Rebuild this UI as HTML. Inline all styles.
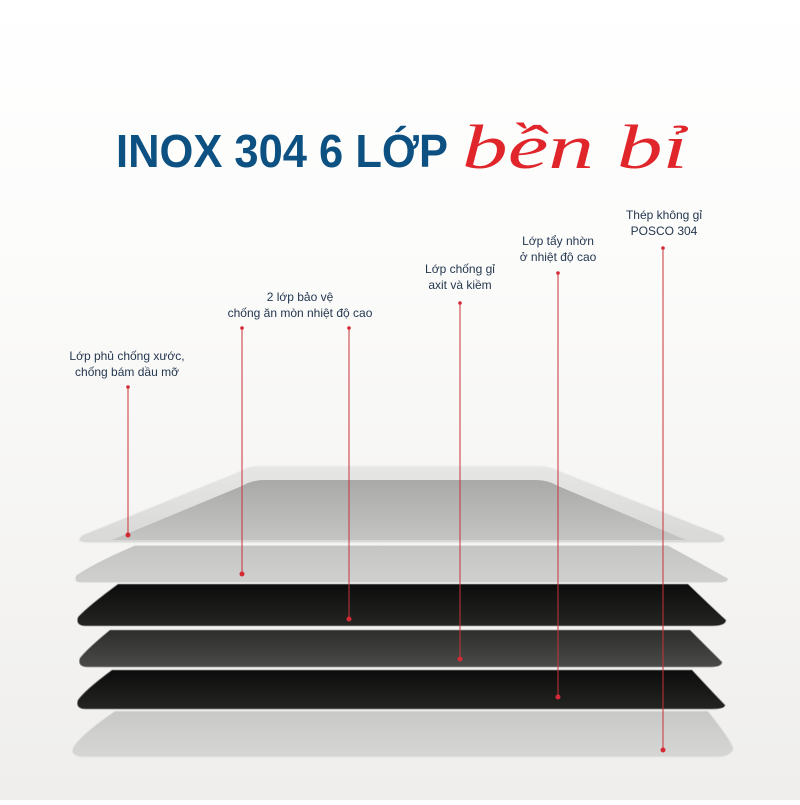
<!DOCTYPE html>
<html><head><meta charset="utf-8"><style>
html,body{margin:0;padding:0;}
body{width:800px;height:800px;overflow:hidden;background:linear-gradient(#ffffff 0%,#fbfbfa 35%,#efeeec 100%);}
</style></head><body>
<svg width="800" height="800" viewBox="0 0 800 800" xmlns="http://www.w3.org/2000/svg">
<defs>
<linearGradient id="g1" x1="0" y1="0" x2="0" y2="1"><stop offset="0" stop-color="#e6e6e5"/><stop offset="1" stop-color="#d8d8d7"/></linearGradient>
<linearGradient id="gi" x1="0" y1="0" x2="0" y2="1"><stop offset="0" stop-color="#a9a9a8"/><stop offset="1" stop-color="#c4c4c3"/></linearGradient>
<linearGradient id="g2" x1="0" y1="0" x2="0" y2="1"><stop offset="0" stop-color="#c4c4c3"/><stop offset="1" stop-color="#d0d0cf"/></linearGradient>
<linearGradient id="g3" x1="0" y1="0" x2="0" y2="1"><stop offset="0" stop-color="#0c0c0c"/><stop offset="1" stop-color="#242422"/></linearGradient>
<linearGradient id="g4" x1="0" y1="0" x2="0" y2="1"><stop offset="0" stop-color="#2d2e2c"/><stop offset="1" stop-color="#4a4b48"/></linearGradient>
<linearGradient id="g6" x1="0" y1="0" x2="0" y2="1"><stop offset="0" stop-color="#c8c8c7"/><stop offset="1" stop-color="#d6d6d5"/></linearGradient>
</defs>
<path d="M115,711 L708,711 Q735,745 733,750 Q730,757 715,757 L85,757 Q70,757 73,748 Q80,735 115,711Z" fill="url(#g6)" stroke="#e4e4e3" stroke-width="1"/>
<path d="M112,670 L692,670 Q718,698 725,705 Q725,709 712,709 L86,709 Q75,709 78,700 Q85,690 112,670Z" fill="url(#g3)" stroke="#8a8a88" stroke-width="0.8"/>
<path d="M110,630 L690,630 Q715,655 722,662 Q722,667 710,667 L88,667 Q77,667 80,658 Q88,648 110,630Z" fill="url(#g4)" stroke="#9a9a98" stroke-width="0.8"/>
<path d="M118,584 L688,584 Q715,610 726,620 Q726,626 712,626 L86,626 Q75,626 78,617 Q88,606 118,584Z" fill="url(#g3)" stroke="#a6a6a4" stroke-width="0.8"/>
<path d="M135,545 L668,545 Q710,568 728,578 Q730,583 718,583 L82,583 Q72,583 76,575 Q95,562 135,545Z" fill="url(#g2)" stroke="#f2f2f2" stroke-width="1.2"/>
<path d="M258,466 L540,466 Q550,466 562,472 L722,535 Q730,542 718,543 L86,543 Q74,542 82,535 L238,472 Q248,466 258,466Z" fill="url(#g1)" stroke="#f0f0f0" stroke-width="1.2"/>
<path d="M264,480 L536,480 Q548,480 558,486 L686,540 L112,540 L242,486 Q252,480 264,480Z" fill="url(#gi)"/>
<g stroke="#c8323a" stroke-width="1">
<line x1="128" y1="387" x2="128" y2="535"/>
<line x1="242" y1="328" x2="242" y2="574"/>
<line x1="349" y1="328" x2="349" y2="619"/>
<line x1="460" y1="303" x2="460" y2="659"/>
<line x1="558" y1="273" x2="558" y2="697"/>
<line x1="663" y1="248" x2="663" y2="750"/>
</g>
<g fill="#d42a35">
<circle cx="128" cy="535" r="2.5"/><circle cx="242" cy="574" r="2.5"/><circle cx="349" cy="619" r="2.5"/>
<circle cx="460" cy="659" r="2.5"/><circle cx="558" cy="697" r="2.5"/><circle cx="663" cy="750" r="2.5"/>
<circle cx="128" cy="387" r="1.8"/><circle cx="242" cy="328" r="1.8"/><circle cx="349" cy="328" r="1.8"/>
<circle cx="460" cy="303" r="1.8"/><circle cx="558" cy="273" r="1.8"/><circle cx="663" cy="248" r="1.8"/>
</g>
<g font-family="Liberation Sans, DejaVu Sans, sans-serif" font-size="12" fill="#24374f" text-anchor="middle">
<text x="127" y="360">Lớp phủ chống xước,</text><text x="127" y="376">chống bám dầu mỡ</text>
<text x="300" y="301">2 lớp bảo vệ</text><text x="300" y="317">chống ăn mòn nhiệt độ cao</text>
<text x="460" y="273">Lớp chống gỉ</text><text x="460" y="289">axit và kiềm</text>
<text x="558" y="245">Lớp tẩy nhờn</text><text x="558" y="261">ở nhiệt độ cao</text>
<text x="664" y="219">Thép không gỉ</text><text x="664" y="235">POSCO 304</text>
</g>
<text x="116" y="167" font-family="Liberation Sans, sans-serif" font-weight="bold" font-size="46" fill="#0d5082" textLength="332" lengthAdjust="spacingAndGlyphs">INOX 304 6 LỚP</text>
<text x="462" y="168" font-family="Liberation Serif, serif" font-style="italic" font-size="62" fill="#e0252b" textLength="226" lengthAdjust="spacingAndGlyphs">bền bỉ</text>
</svg>
</body></html>
